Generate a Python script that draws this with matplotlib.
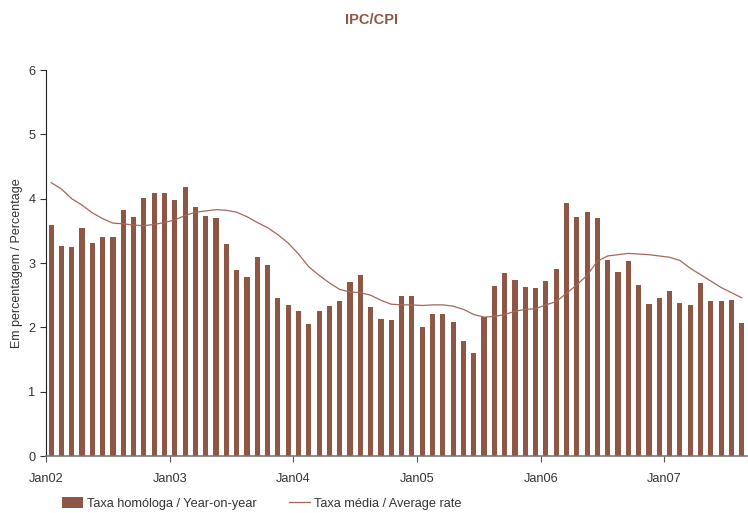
import numpy as np
import matplotlib
matplotlib.use("Agg")
import matplotlib.pyplot as plt

plt.rcParams["font.family"] = ["Liberation Sans", "DejaVu Sans"]

# --- Dados (Jan02 .. Ago07, mensal) ------------------------------------------
taxa_homologa = [
    3.59, 3.26, 3.25, 3.54, 3.31, 3.40, 3.40, 3.82, 3.72, 4.01, 4.09, 4.09,  # 2002
    3.98, 4.18, 3.87, 3.73, 3.70, 3.30, 2.89, 2.78, 3.09, 2.97, 2.46, 2.35,  # 2003
    2.25, 2.05, 2.25, 2.33, 2.41, 2.71, 2.81, 2.32, 2.13, 2.11, 2.49, 2.49,  # 2004
    2.01, 2.21, 2.21, 2.08, 1.79, 1.60, 2.16, 2.64, 2.84, 2.74, 2.63, 2.61,  # 2005
    2.72, 2.91, 3.93, 3.72, 3.79, 3.70, 3.05, 2.86, 3.03, 2.66, 2.36, 2.46,  # 2006
    2.57, 2.38, 2.35, 2.69, 2.41, 2.41, 2.42, 2.07,                          # 2007
]
taxa_media = [
    4.25, 4.15, 4.00, 3.90, 3.78, 3.69, 3.62, 3.61, 3.59, 3.58, 3.60, 3.63,
    3.67, 3.74, 3.79, 3.81, 3.83, 3.82, 3.79, 3.72, 3.63, 3.55, 3.44, 3.31,
    3.14, 2.94, 2.81, 2.69, 2.59, 2.55, 2.54, 2.50, 2.42, 2.36, 2.35, 2.35,
    2.34, 2.35, 2.35, 2.33, 2.28, 2.20, 2.16, 2.17, 2.20, 2.25, 2.28, 2.29,
    2.35, 2.40, 2.53, 2.66, 2.81, 3.03, 3.11, 3.13, 3.15, 3.14, 3.13, 3.11,
    3.09, 3.04, 2.92, 2.82, 2.72, 2.62, 2.54, 2.46,
]
rotulos_anos = ["Jan02", "Jan03", "Jan04", "Jan05", "Jan06", "Jan07"]

COR_BARRA = "#8e5644"
COR_LINHA = "#a4675a"
COR_TEXTO = "#333333"

# --- Gráfico -----------------------------------------------------------------
fig = plt.figure(figsize=(7.48, 5.13), dpi=100)
ax = fig.add_axes([0.0615, 0.111, 0.937, 0.7525])

meses = np.arange(len(taxa_homologa)) + 0.5
barras = ax.bar(meses, taxa_homologa, width=0.5, color=COR_BARRA,
                label="Taxa homóloga / Year-on-year")
linha, = ax.plot(meses, taxa_media, color=COR_LINHA, linewidth=0.9,
                 label="Taxa média / Average rate")

ax.set_xlim(0, len(taxa_homologa))
ax.set_ylim(0, 6)
ax.set_xticks(np.arange(len(rotulos_anos)) * 12)
ax.set_xticklabels(rotulos_anos)
ax.set_yticks(range(0, 7))

for lado in ("top", "right"):
    ax.spines[lado].set_visible(False)
ax.spines["left"].set_color("#222222")
ax.spines["bottom"].set_color("#777777")
ax.spines["bottom"].set_linewidth(1.2)
ax.tick_params(axis="both", colors=COR_TEXTO, labelsize=9.2, length=4)
ax.tick_params(axis="x", pad=8, color="#555555")

ax.set_ylabel("Em percentagem / Percentage", fontsize=9, color=COR_TEXTO,
              labelpad=4)
fig.text(0.497, 0.961, "IPC/CPI", ha="center", va="center",
         fontsize=10.5, fontweight="bold", color=COR_BARRA)

# legenda no rodapé (no original fica quase cortada na borda)
fig.legend(handles=[barras, linha], loc="center", ncol=2,
           bbox_to_anchor=(0.35, 0.018), frameon=False, fontsize=9.2,
           handlelength=1.6, handleheight=0.9, handletextpad=0.3,
           columnspacing=2.6, labelcolor=COR_TEXTO)

plt.savefig("out.png", dpi=100)
